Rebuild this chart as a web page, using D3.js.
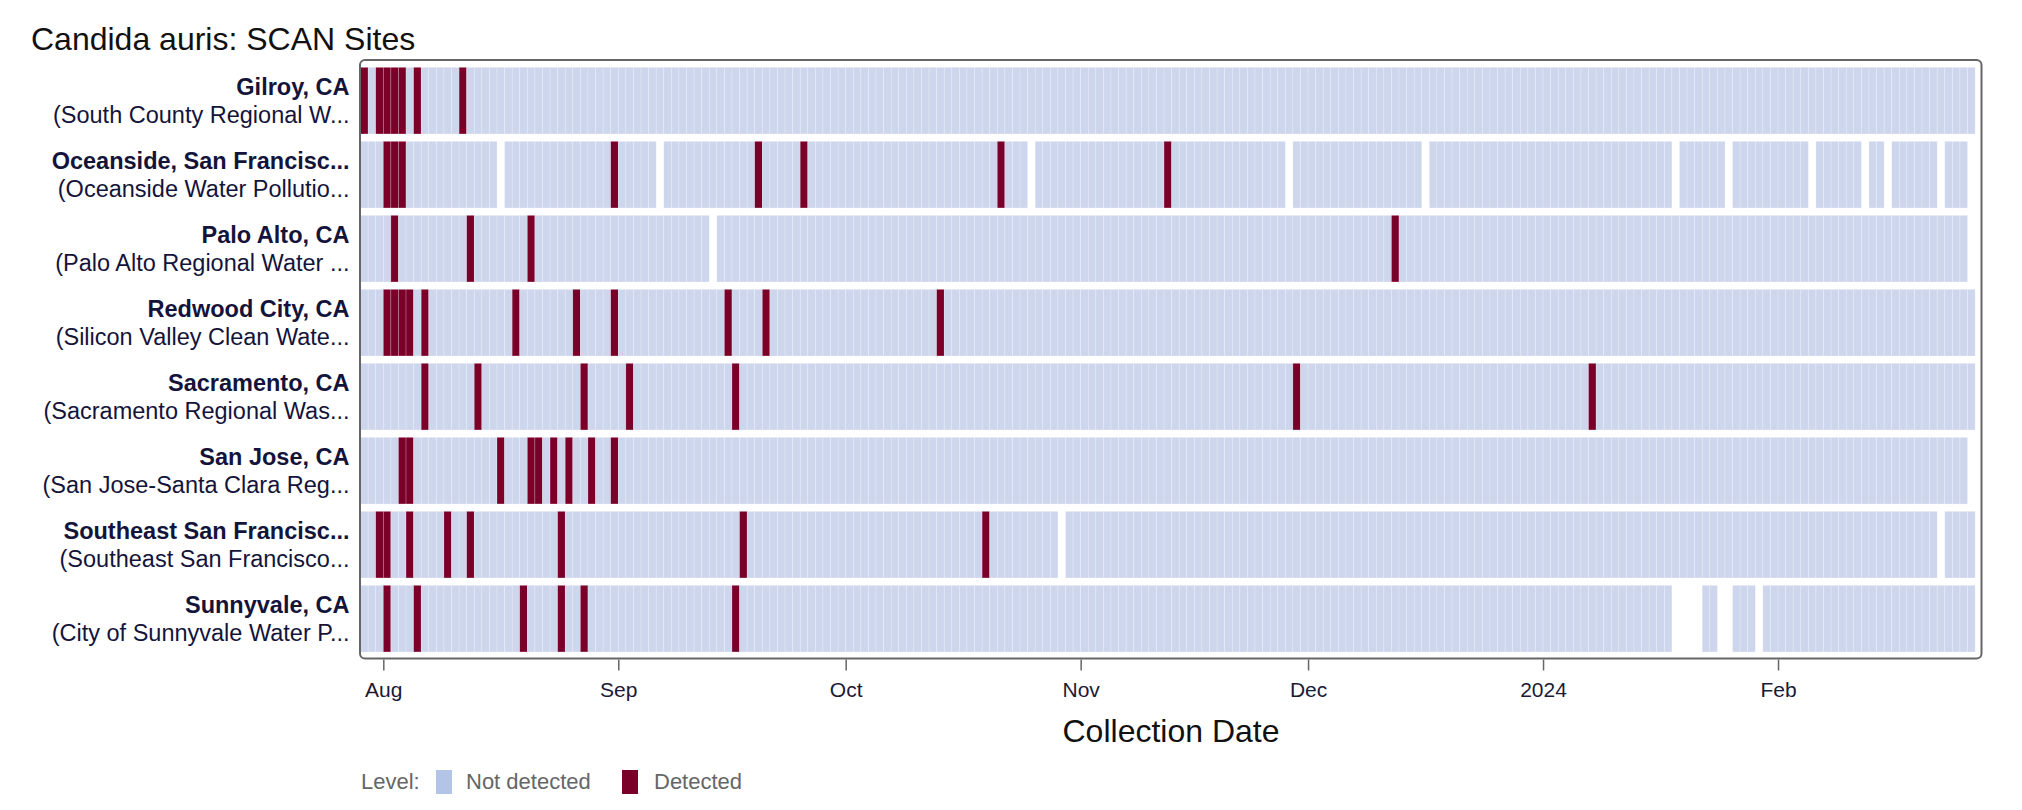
<!DOCTYPE html>
<html><head><meta charset="utf-8">
<script src="https://cdn.jsdelivr.net/npm/d3@7"></script>
<style>
html,body{margin:0;padding:0;background:#fff;}
svg{display:block;font-family:"Liberation Sans",Arial,Helvetica,sans-serif;}
</style></head><body>
<svg id="chart" width="2022" height="810"></svg>
<script>
// ---------------- data ----------------
const chartTitle = "Candida auris: SCAN Sites";
const siteNames = ["Gilroy, CA","Oceanside, San Francisc...","Palo Alto, CA","Redwood City, CA",
  "Sacramento, CA","San Jose, CA","Southeast San Francisc...","Sunnyvale, CA"];
const facilityNames = ["(South County Regional W...","(Oceanside Water Pollutio...","(Palo Alto Regional Water ...",
  "(Silicon Valley Clean Wate...","(Sacramento Regional Was...","(San Jose-Santa Clara Reg...",
  "(Southeast San Francisco...","(City of Sunnyvale Water P..."];
// one code per collection day starting 2023-07-29, chunked by month (Jul 29-31, Aug, Sep, Oct, Nov, Dec, Jan, Feb 1-26)
// "0" = Not detected, "1" = Detected, "_" = no sample
const firstDay = "2023-07-29";
const gilroy = ["101",
  "1110100000 1000000000 0000000000 0","0000000000 0000000000 0000000000",
  "0000000000 0000000000 0000000000 0","0000000000 0000000000 0000000000",
  "0000000000 0000000000 0000000000 0","0000000000 0000000000 0000000000 0",
  "0000000000 0000000000 000000"];
const oceanside = ["000",
  "1110000000 00000_0000 0000000000 1","00000_0000 0000000010 0000100000",
  "0000000000 0000000000 1000_00000 0","0000000000 0100000000 0000000_00",
  "0000000000 00000_0000 0000000000 0","0000000000 0000000_00 0000_00000 0",
  "0000_00000 0_00_00000 0_000_"];
const paloAlto = ["000",
  "0100000000 0100000001 0000000000 0","0000000000 00_0000000 0000000000",
  "0000000000 0000000000 0000000000 0","0000000000 0000000000 0000000000",
  "0000000000 0100000000 0000000000 0","0000000000 0000000000 0000000000 0",
  "0000000000 0000000000 00000_"];
const redwoodCity = ["000",
  "1111010000 0000000100 0000010000 1","0000000000 0000100001 0000000000",
  "0000000000 0010000000 0000000000 0","0000000000 0000000000 0000000000",
  "0000000000 0000000000 0000000000 0","0000000000 0000000000 0000000000 0",
  "0000000000 0000000000 000000"];
const sacramento = ["000",
  "0000010000 0010000000 0000001000 0","0100000000 0000010000 0000000000",
  "0000000000 0000000000 0000000000 0","0000000000 0000000000 0000000010",
  "0000000000 0000000000 0000000000 0","0000001000 0000000000 0000000000 0",
  "0000000000 0000000000 000000"];
const sanJose = ["000",
  "0011000000 0000010001 1010100100 1","0000000000 0000000000 0000000000",
  "0000000000 0000000000 0000000000 0","0000000000 0000000000 0000000000",
  "0000000000 0000000000 0000000000 0","0000000000 0000000000 0000000000 0",
  "0000000000 0000000000 00000_"];
const southeastSF = ["001",
  "1001000010 0100000000 0001000000 0","0000000000 0000001000 0000000000",
  "0000000000 0000000010 00000000_0 0","0000000000 0000000000 0000000000",
  "0000000000 0000000000 0000000000 0","0000000000 0000000000 0000000000 0",
  "0000000000 0000000000 0_0000"];
const sunnyvale = ["000",
  "1000100000 0000000010 0001001000 0","0000000000 0000010000 0000000000",
  "0000000000 0000000000 0000000000 0","0000000000 0000000000 0000000000",
  "0000000000 0000000000 0000000000 0","0000000000 0000000___ _00__000_0 0",
  "0000000000 0000000000 000000"];
const siteCodes = [gilroy, oceanside, paloAlto, redwoodCity, sacramento, sanJose, southeastSF, sunnyvale];

const levelCodes = ["0","1"];
const levelNames = ["Not detected","Detected"];
const levelColors = ["#cdd6ec","#7a0029"];
const legendColors = ["#b3c4e6","#7a0029"];
const xDomain = ["2023-07-29","2024-02-27"];
const tickDates = ["2023-08-01","2023-09-01","2023-10-01","2023-11-01","2023-12-01","2024-01-01","2024-02-01"];
const tickLabels = ["Aug","Sep","Oct","Nov","Dec","2024","Feb"];
const xTitle = "Collection Date";
const legendTitle = "Level:";

// ---------------- chart ----------------
const parse = d3.utcParse("%Y-%m-%d");
const svg = d3.select("#chart");
svg.append("rect").attr("width",2022).attr("height",810).attr("fill","#fff");

const x = d3.scaleUtc().domain(xDomain.map(parse)).range([360.56, 1975.1]);
const y = d3.scaleBand().domain(siteNames).range([63.65, 655.65]).paddingInner(0.1).paddingOuter(0.05);
const color = d3.scaleOrdinal().domain(levelCodes).range(levelColors);

const start = parse(firstDay);
const cells = [];
siteCodes.forEach((chunks, si) => {
  const codes = chunks.join("").replace(/\s/g, "");
  for (let i = 0; i < codes.length; i++) {
    const c = codes[i];
    if (c === "_") continue;
    const d0 = d3.utcDay.offset(start, i);
    cells.push({site: siteNames[si], date: d0, next: d3.utcDay.offset(d0, 1), code: c});
  }
});

svg.append("g").selectAll("rect").data(cells).join("rect")
  .attr("x", d => x(d.date))
  .attr("width", d => x(d.next) - x(d.date))
  .attr("y", d => y(d.site))
  .attr("height", y.bandwidth())
  .attr("fill", d => color(d.code))
  .attr("stroke", "#ffffff").attr("stroke-opacity", 0.35).attr("stroke-width", 0.6);

// frame
svg.append("rect").attr("x",360).attr("y",60).attr("width",1621.5).attr("height",598.5)
  .attr("rx",5).attr("fill","none").attr("stroke","#666").attr("stroke-width",2);

// x axis
const xAxis = d3.axisBottom(x).tickValues(tickDates.map(parse))
  .tickFormat((d,i) => tickLabels[i]).tickSize(11).tickPadding(12);
const gx = svg.append("g").attr("transform","translate(0,659.5)").call(xAxis);
gx.select(".domain").remove();
gx.selectAll(".tick line").attr("stroke","#666").attr("stroke-width",1.5);
gx.selectAll(".tick text").attr("font-size",21).attr("fill","#1a1a36")
  .attr("font-family",'"Liberation Sans",Arial,sans-serif');

svg.append("text").attr("x",1171).attr("y",742).attr("text-anchor","middle")
  .attr("font-size",32).attr("fill","#111").text(xTitle);

// row labels
const labels = svg.append("g");
siteNames.forEach((s, i) => {
  const cy = y(s) + y.bandwidth()/2;
  labels.append("text").attr("x",349.5).attr("y",cy-6).attr("text-anchor","end")
    .attr("font-size",23.5).attr("font-weight","bold").attr("fill","#14143a").text(s);
  labels.append("text").attr("x",349.5).attr("y",cy+22).attr("text-anchor","end")
    .attr("font-size",23.5).attr("fill","#14143a").text(facilityNames[i]);
});

// title
svg.append("text").attr("x",31).attr("y",50).attr("font-size",32).attr("fill","#111").text(chartTitle);

// legend
const lg = svg.append("g");
lg.append("text").attr("x",361).attr("y",789).attr("font-size",22).attr("fill","#666").text(legendTitle);
const legendX = [436, 622];
const legendTextX = [466, 654];
levelNames.forEach((n,i) => {
  lg.append("rect").attr("x",legendX[i]).attr("y",770).attr("width",16).attr("height",24).attr("fill",legendColors[i]);
  lg.append("text").attr("x",legendTextX[i]).attr("y",789).attr("font-size",22).attr("fill","#666").text(n);
});
</script>
</body></html>
